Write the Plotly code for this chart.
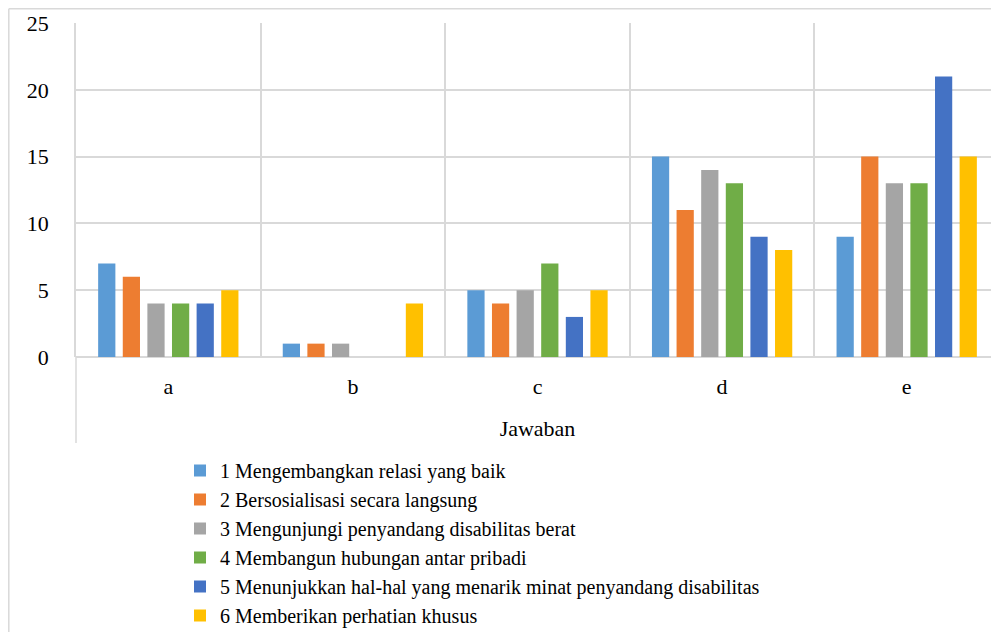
import plotly.graph_objects as go

categories = ["a", "b", "c", "d", "e"]
series_names = [
    "1 Mengembangkan relasi yang baik",
    "2 Bersosialisasi secara langsung",
    "3 Mengunjungi penyandang disabilitas berat",
    "4 Membangun hubungan antar pribadi",
    "5 Menunjukkan hal-hal yang menarik minat penyandang disabilitas",
    "6 Memberikan perhatian khusus",
]
s1 = [7, 1, 5, 15, 9]
s2 = [6, 1, 4, 11, 15]
s3 = [4, 1, 5, 14, 13]
s4 = [4, 0, 7, 13, 13]
s5 = [4, 0, 3, 9, 21]
s6 = [5, 4, 5, 8, 15]
series_values = [s1, s2, s3, s4, s5, s6]
colors = ["#5B9BD5", "#ED7D31", "#A5A5A5", "#70AD47", "#4472C4", "#FFC000"]
y_ticks = [0, 5, 10, 15, 20, 25]

FONT = "Liberation Serif"
GRID = "#D9D9D9"

fig = go.Figure()
for name, vals, col in zip(series_names, series_values, colors):
    fig.add_trace(go.Bar(x=categories, y=vals, name=name, marker_color=col,
                         marker_line_width=0))

# page body has an 8px margin: figure pixel = reference pixel - 8
OFF = 8
W, H = 999 - OFF, 632 - OFF
L, R, T = 76 - OFF, 0, 23 - OFF
B = H - (357 - OFF)
pw = W - L - R
ph = H - T - B

def px_x(x):  # reference pixel -> paper
    return (x - OFF - L) / pw

def px_y(y):
    return (H - B - (y - OFF)) / ph

fig.update_layout(
    width=W, height=H,
    margin=dict(l=L, r=R, t=T, b=B, autoexpand=False),
    paper_bgcolor="white", plot_bgcolor="white",
    font=dict(family=FONT, size=22, color="black"),
    barmode="group", bargap=0.2, bargroupgap=0.3,
    showlegend=True,
    legend=dict(x=px_x(180), y=px_y(451), xanchor="left", yanchor="top",
                font=dict(family=FONT, size=20, color="black"),
                bgcolor="rgba(0,0,0,0)", traceorder="normal", itemwidth=30),
    xaxis=dict(type="category", tickson="boundaries", showgrid=True,
               gridcolor=GRID, gridwidth=1.5, ticks="", showline=False,
               zeroline=False, ticklabelstandoff=14,
               tickfont=dict(family=FONT, size=22, color="black"),
               title=dict(text="Jawaban", standoff=22,
                          font=dict(family=FONT, size=22, color="black"))),
    yaxis=dict(range=[0, 25], tickvals=y_ticks, showgrid=True,
               gridcolor=GRID, gridwidth=1.5, zeroline=True,
               zerolinecolor=GRID, zerolinewidth=1.5,
               showline=True, linecolor=GRID, linewidth=1.5,
               ticks="", ticklabelstandoff=21,
               tickfont=dict(family=FONT, size=22, color="black")),
)

# extended left axis line below the plot and the outer chart border
fig.add_shape(type="line", xref="paper", yref="paper", x0=0, x1=0,
              y0=0, y1=px_y(443), line=dict(color=GRID, width=1.5))
fig.add_shape(type="line", xref="paper", yref="paper", x0=px_x(8.8), x1=px_x(1010),
              y0=px_y(8.8), y1=px_y(8.8), line=dict(color=GRID, width=1.5))
fig.add_shape(type="line", xref="paper", yref="paper", x0=px_x(8.8), x1=px_x(8.8),
              y0=px_y(8.8), y1=px_y(640), line=dict(color=GRID, width=1.5))

fig.write_html("out.html")
